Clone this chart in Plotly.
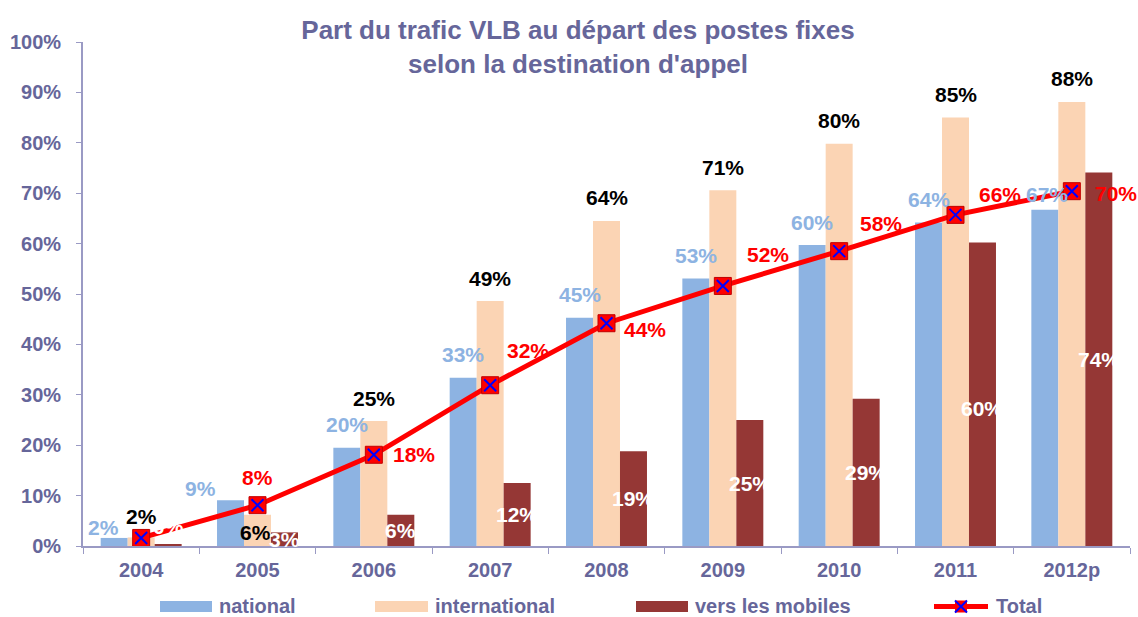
import plotly.graph_objects as go

# ---------------- data ----------------
categories = ["2004", "2005", "2006", "2007", "2008", "2009", "2010", "2011", "2012p"]
national = [1.6, 9.1, 19.5, 33.4, 45.3, 53.1, 59.7, 64.2, 66.7]
international = [1.7, 6.2, 24.8, 48.6, 64.5, 70.6, 79.8, 85.0, 88.1]
mobiles = [0.4, 2.7, 6.2, 12.5, 18.8, 25.0, 29.2, 60.2, 74.1]
total = [1.6, 8.1, 18.1, 31.9, 44.2, 51.6, 58.5, 65.7, 70.4]
y_ticks = [0, 10, 20, 30, 40, 50, 60, 70, 80, 90, 100]
series_names = ["national", "international", "vers les mobiles", "Total"]

# ---------------- style ----------------
W, H = 1138, 617
ML, MR, MT, MB = 83, 8, 42, 71
BARGAP = 0.304
C_NAT, C_INT, C_MOB, C_TOT = "#8DB3E2", "#FBD4B4", "#953735", "#FF0000"
C_TXT = "#66669A"
C_AXIS = "#9A9AC4"
FONT = "Liberation Sans"
LAB_SIZE = 21

# label pixel shifts (dx, dy up)
nat_shift = [(-11, 10), (-30, 12), (0, 23), (0, 23), (0, 23), (0, 23), (0, 23), (0, 23), (2, 15)]
int_shift = [(0, 21), (-2, -18), (0, 23), (0, 23), (0, 23), (0, 23), (0, 23), (0, 23), (0, 23)]
mob_shift = [(0, 18), (0, 0), (0, 0), (0, 0), (0, 0), (0, 0), (0, 0), (0, -14), (0, 0)]
tot_shift = [None, (0, 28), (40, 0), (38, 35), (38, -6), (45, 31), (42, 28), (44, 20), (44, -2)]

pw = W - ML - MR
ph = H - MT - MB
cat_w = pw / len(categories)
bar_w = cat_w * (1 - BARGAP) / 3
xpos = list(range(len(categories)))


def pct(v):
    return f"{round(v):d}%"


fig = go.Figure()
for name, vals, col in [(series_names[0], national, C_NAT),
                        (series_names[1], international, C_INT),
                        (series_names[2], mobiles, C_MOB)]:
    fig.add_trace(go.Bar(x=xpos, y=vals, name=name, marker_color=col,
                         marker_line_width=0, showlegend=False))

fig.add_trace(go.Scatter(x=xpos, y=total, name=series_names[3], mode="lines+markers",
                         line=dict(color=C_TOT, width=5),
                         marker=dict(symbol="square", size=17, color=C_TOT,
                                     line=dict(color="#C00000", width=1)),
                         showlegend=False, cliponaxis=False))
fig.add_trace(go.Scatter(x=xpos, y=total, mode="markers", hoverinfo="skip",
                         marker=dict(symbol="x-thin", size=12,
                                     line=dict(color="#0000FF", width=2)),
                         showlegend=False, cliponaxis=False))

ann = []


def add_label(xi, y, text, color, dx, dy):
    ann.append(dict(x=xi, y=y, xref="x", yref="y", text="<b>" + text + "</b>", showarrow=False,
                    xanchor="center", yanchor="middle", xshift=dx, yshift=dy,
                    font=dict(family=FONT, size=LAB_SIZE, color=color)))


for i, xi in enumerate(xpos):
    add_label(xi, national[i], pct(national[i]), C_NAT, -bar_w + nat_shift[i][0], nat_shift[i][1])
    add_label(xi, international[i], pct(international[i]), "#000000", int_shift[i][0], int_shift[i][1])
    add_label(xi, mobiles[i] / 2, pct(mobiles[i]), "#FFFFFF", bar_w + mob_shift[i][0], mob_shift[i][1])
    if tot_shift[i] is not None:
        add_label(xi, total[i], pct(total[i]), C_TOT, tot_shift[i][0], tot_shift[i][1])

# ---------------- custom legend (paper coords) ----------------
def px(x):
    return (x - ML) / pw


def py(y):
    return (H - MB - y) / ph


shapes = []
leg_y = 606.5
leg_items = [(160, 212, C_NAT, series_names[0]),
             (375, 428, C_INT, series_names[1]),
             (636, 688, C_MOB, series_names[2])]
for x0, x1, col, name in leg_items:
    shapes.append(dict(type="rect", xref="paper", yref="paper", x0=px(x0), x1=px(x1),
                       y0=py(leg_y + 5.5), y1=py(leg_y - 5.5), fillcolor=col, line_width=0))
    ann.append(dict(x=px(x1 + 5), y=py(leg_y - 1), xref="paper", yref="paper", text="<b>" + name + "</b>",
                    showarrow=False, xanchor="left", yanchor="middle",
                    font=dict(family=FONT, size=20, color=C_TXT)))
# Total legend entry
shapes.append(dict(type="line", xref="paper", yref="paper", x0=px(934), x1=px(988),
                   y0=py(leg_y), y1=py(leg_y), line=dict(color=C_TOT, width=5)))
shapes.append(dict(type="rect", xref="paper", yref="paper", x0=px(955), x1=px(967),
                   y0=py(leg_y + 6), y1=py(leg_y - 6), fillcolor=C_TOT, line_width=0))
shapes.append(dict(type="line", xref="paper", yref="paper", x0=px(955), x1=px(967),
                   y0=py(leg_y + 6), y1=py(leg_y - 6), line=dict(color="#0000FF", width=2)))
shapes.append(dict(type="line", xref="paper", yref="paper", x0=px(955), x1=px(967),
                   y0=py(leg_y - 6), y1=py(leg_y + 6), line=dict(color="#0000FF", width=2)))
ann.append(dict(x=px(994), y=py(leg_y - 1), xref="paper", yref="paper", text="<b>" + series_names[3] + "</b>",
                showarrow=False, xanchor="left", yanchor="middle",
                font=dict(family=FONT, size=20, color=C_TXT)))

fig.update_layout(
    width=W, height=H,
    margin=dict(l=ML, r=MR, t=MT, b=MB, autoexpand=False),
    paper_bgcolor="white", plot_bgcolor="white",
    barmode="group", bargap=BARGAP, bargroupgap=0,
    showlegend=False,
    title=dict(text="<b>Part du trafic VLB au départ des postes fixes<br>selon la destination d'appel</b>",
               x=578 / W, xanchor="center", y=1 - 39 / H, yanchor="middle", yref="container",
               font=dict(family=FONT, size=26, color=C_TXT)),
    xaxis=dict(range=[-0.5, len(categories) - 0.5], tickmode="array", tickvals=xpos,
               ticktext=["<b>" + c + "</b>" for c in categories], tickangle=0,
               showline=True, linecolor=C_AXIS, linewidth=1.5,
               ticks="outside", ticklen=5, tickcolor="rgba(0,0,0,0)",
               tickfont=dict(family=FONT, size=20, color=C_TXT),
               showgrid=False, zeroline=False),
    yaxis=dict(range=[0, 100], tickmode="array", tickvals=y_ticks,
               ticktext=["<b>" + f"{v}%" + "</b>&nbsp;&nbsp;" for v in y_ticks], showline=True,
               linecolor=C_AXIS, linewidth=1.5, ticks="outside", ticklen=5, tickcolor=C_AXIS,
               tickfont=dict(family=FONT, size=20, color=C_TXT),
               showgrid=False, zeroline=False),
    annotations=ann, shapes=shapes,
)

# category boundary ticks on the x axis
fig.update_xaxes(minor=dict(tickmode="array", tickvals=[i + 0.5 for i in range(-1, len(categories))],
                            ticks="outside", ticklen=6, tickcolor=C_AXIS, showgrid=False))

fig.write_html("out.html", config={"displayModeBar": False},
               post_script="document.body.style.margin='0';")
